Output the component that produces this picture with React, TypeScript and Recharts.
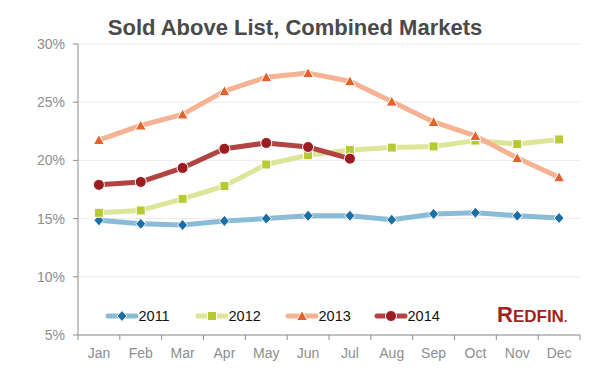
import { LineChart, Line, XAxis, YAxis, CartesianGrid } from 'recharts'

const months = ['Jan', 'Feb', 'Mar', 'Apr', 'May', 'Jun', 'Jul', 'Aug', 'Sep', 'Oct', 'Nov', 'Dec']
const y2011 = [14.85, 14.55, 14.45, 14.8, 15.0, 15.25, 15.25, 14.9, 15.4, 15.5, 15.25, 15.05]
const y2012 = [15.5, 15.7, 16.7, 17.8, 19.65, 20.45, 20.9, 21.1, 21.2, 21.7, 21.4, 21.8]
const y2013 = [21.75, 23.0, 23.95, 25.95, 27.15, 27.5, 26.8, 25.05, 23.3, 22.1, 20.2, 18.55]
const y2014 = [17.9, 18.15, 19.35, 21.0, 21.5, 21.15, 20.15]
const yTicks = [5, 10, 15, 20, 25, 30]

const data = months.map((m, i) => ({
  month: m,
  y2011: y2011[i],
  y2012: y2012[i],
  y2013: y2013[i],
  y2014: y2014[i],
}))

type Shape = 'diamond' | 'square' | 'triangle' | 'circle'

const series: { key: string; name: string; line: string; mark: string; shape: Shape }[] = [
  { key: 'y2011', name: '2011', line: '#8abcd8', mark: '#1b6fa6', shape: 'diamond' },
  { key: 'y2012', name: '2012', line: '#dce598', mark: '#b7cb30', shape: 'square' },
  { key: 'y2013', name: '2013', line: '#f6b394', mark: '#e5612a', shape: 'triangle' },
  { key: 'y2014', name: '2014', line: '#b24343', mark: '#9d1c22', shape: 'circle' },
]

const W = 594
const H = 372
const PLOT_L = 78
const PLOT_R = 580
const HALF = (PLOT_R - PLOT_L) / months.length / 2
const AXIS = '#8c8c8c'
const FONT = '"Liberation Sans", Arial, sans-serif'

function Marker({ cx, cy, shape, color }: { cx: number; cy: number; shape: Shape; color: string }) {
  if (shape === 'diamond')
    return <path d={`M${cx},${cy - 5.5}L${cx + 5},${cy}L${cx},${cy + 5.5}L${cx - 5},${cy}Z`} fill={color} stroke="#fff" strokeWidth={1} />
  if (shape === 'square')
    return <rect x={cx - 4.5} y={cy - 4.5} width={9} height={9} fill={color} stroke="#fff" strokeWidth={1} />
  if (shape === 'triangle')
    return <path d={`M${cx},${cy - 5.5}L${cx + 5.5},${cy + 4.5}L${cx - 5.5},${cy + 4.5}Z`} fill={color} stroke="#fff" strokeWidth={1} />
  return <circle cx={cx} cy={cy} r={5.5} fill={color} stroke="#fff" strokeWidth={1} />
}

function XTick(props: any) {
  const { x, y, payload, index } = props
  return (
    <g>
      <line x1={x - HALF} x2={x - HALF} y1={y} y2={y + 5} stroke={AXIS} />
      {index === months.length - 1 && <line x1={x + HALF} x2={x + HALF} y1={y} y2={y + 5} stroke={AXIS} />}
      <text x={x} y={y + 22.5} textAnchor="middle" fill="#8e8e8e" fontSize={14} fontFamily={FONT}>
        {payload.value}
      </text>
    </g>
  )
}

const legendX = [108, 198, 288, 377]

export default function App() {
  return (
    <div style={{ position: 'absolute', left: 0, top: 0, width: W, height: H, background: '#fff' }}>
      <LineChart width={W} height={H} data={data} margin={{ top: 44, right: W - PLOT_R, bottom: 0, left: 0 }}>
        <CartesianGrid horizontal vertical={false} stroke="#ececec" />
        <XAxis
          dataKey="month"
          height={37}
          stroke={AXIS}
          tickLine={false}
          tickSize={0}
          tickMargin={0}
          tick={<XTick />}
          interval={0}
          padding={{ left: HALF, right: HALF }}
        />
        <YAxis
          domain={[5, 30]}
          ticks={yTicks}
          width={PLOT_L}
          stroke={AXIS}
          tickSize={5}
          tickMargin={8}
          tickFormatter={(v) => `${v}%`}
          tick={{ fill: '#8e8e8e', fontSize: 14, fontFamily: FONT }}
        />
        {series.map((s) => (
          <Line
            key={s.key}
            dataKey={s.key}
            type="linear"
            stroke={s.line}
            strokeWidth={5}
            strokeLinejoin="round"
            isAnimationActive={false}
            connectNulls={false}
            dot={(p: any) => (p.value == null ? <g key={p.key} /> : <Marker key={p.key} cx={p.cx} cy={p.cy} shape={s.shape} color={s.mark} />)}
            activeDot={false}
          />
        ))}
      </LineChart>
      <svg width={W} height={H} style={{ position: 'absolute', left: 0, top: 0, pointerEvents: 'none' }}>
        <text x={295} y={34.5} textAnchor="middle" fill="#4a4a4a" fontSize={22} fontWeight="bold" fontFamily={FONT}>
          Sold Above List, Combined Markets
        </text>
        {series.map((s, i) => (
          <g key={s.key}>
            <line x1={legendX[i]} x2={legendX[i] + 28} y1={316} y2={316} stroke={s.line} strokeWidth={5} strokeLinecap="round" />
            <Marker cx={legendX[i] + 14} cy={316} shape={s.shape} color={s.mark} />
            <text x={legendX[i] + 30.5} y={321} fill="#111" fontSize={14.5} fontFamily={FONT}>
              {s.name}
            </text>
          </g>
        ))}
        <text x={497} y={322} fill="#a31f23" fontWeight="bold" fontFamily={FONT}>
          <tspan fontSize={22}>R</tspan>
          <tspan fontSize={17}>EDFIN</tspan>
          <tspan fontSize={12}>.</tspan>
        </text>
      </svg>
    </div>
  )
}
